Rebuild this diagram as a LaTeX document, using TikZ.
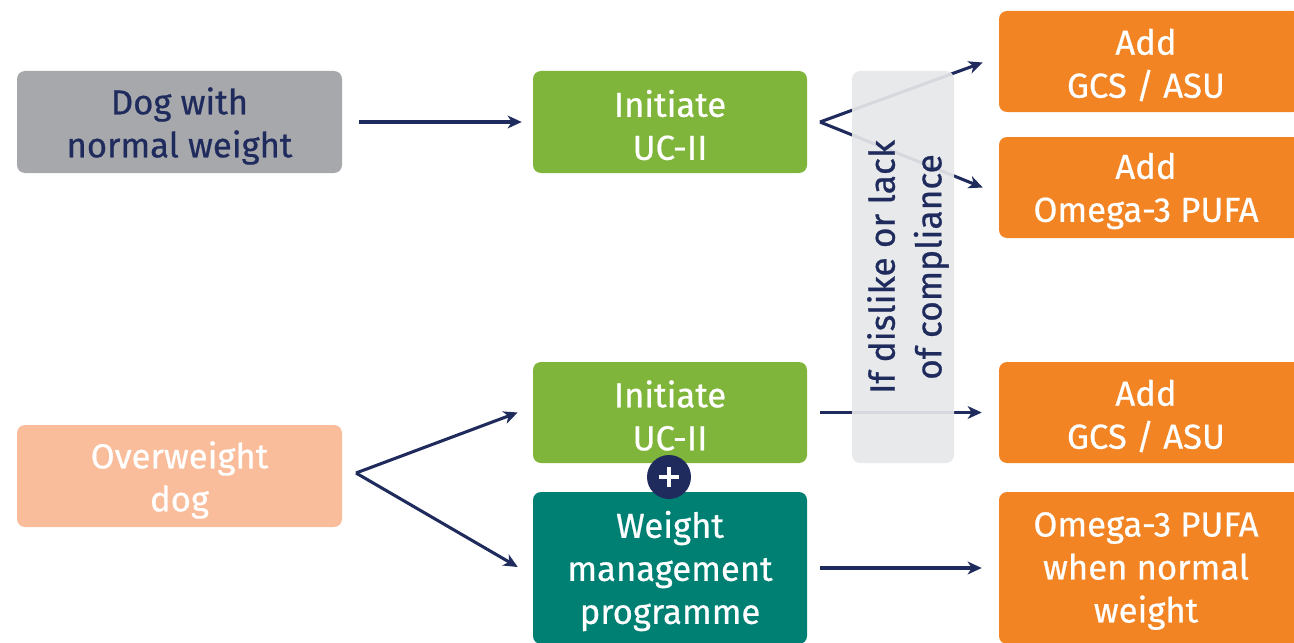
\documentclass[tikz,border=0pt]{standalone}
\usepackage{fontspec}
\setmainfont{Fira Sans}[UprightFeatures={FakeBold=0.6}]
\usetikzlibrary{arrows.meta,calc}
\definecolor{navy}{RGB}{31,43,92}
\definecolor{greybox}{RGB}{167,168,172}
\definecolor{peach}{RGB}{249,189,155}
\definecolor{leaf}{RGB}{128,181,59}
\definecolor{teal}{RGB}{0,127,115}
\definecolor{orangebox}{RGB}{242,132,36}
\definecolor{note}{RGB}{230,231,233}
\tikzset{
  box/.style={rounded corners=6pt, inner sep=0pt},
  label text/.style={inner sep=0pt, align=center,
    font=\fontsize{26}{32.25}\selectfont},
  arr/.style={draw=navy, line width=2.3pt,
    -{Stealth[length=10.5pt,width=9.5pt,inset=3pt]}},
}
\begin{document}
\begin{tikzpicture}[x=0.75pt,y=-0.75pt]
\useasboundingbox (0,0) rectangle (1294,642);
\clip (0,0) rectangle (1294,642);

% left column
\node[box, fill=greybox, minimum width=243.75pt, minimum height=76.5pt]
  (dog) at (179.5,122) {};
\node[label text, text=navy] (dogtxt) at ($(dog.center)+(0,4)$) {Dog with\\normal weight};
\node[box, fill=peach, minimum width=243.75pt, minimum height=76.5pt]
  (over) at (179.5,476) {};
\node[label text, text=white] (overtxt) at ($(over.center)+(0,4)$) {Overweight\\dog};

% middle column
\node[box, fill=leaf, minimum width=205.5pt, minimum height=76.5pt]
  (init1) at (670,122) {};
\node[label text, text=white] (init1txt) at ($(init1.center)+(0,3)$) {Initiate\\UC-II};
\node[box, fill=leaf, minimum width=205.5pt, minimum height=75.75pt]
  (init2) at (670,412.5) {};
\node[label text, text=white] (init2txt) at ($(init2.center)+(0,3)$) {Initiate\\UC-II};
\node[box, fill=teal, minimum width=205.5pt, minimum height=114pt]
  (wm) at (670,568) {};
\node[label text, text=white] (wmtxt) at ($(wm.center)+(0,3)$) {Weight\\management\\programme};

% right column (boxes run past the right edge)
\node[box, fill=orangebox, minimum width=226.5pt, minimum height=75.75pt]
  (o1) at (1150,61.5) {};
\node[label text, text=white] (o1txt) at (1146,65) {Add\\GCS / ASU};
\node[box, fill=orangebox, minimum width=226.5pt, minimum height=75.75pt]
  (o2) at (1150,187.5) {};
\node[label text, text=white] (o2txt) at (1146,191) {Add\\Omega-3 PUFA};
\node[box, fill=orangebox, minimum width=226.5pt, minimum height=75.75pt]
  (o3) at (1150,412.5) {};
\node[label text, text=white] (o3txt) at (1146,416) {Add\\GCS / ASU};
\node[box, fill=orangebox, minimum width=226.5pt, minimum height=114pt]
  (o4) at (1150,568) {};
\node[label text, text=white] (o4txt) at (1146,571) {Omega-3 PUFA\\when normal\\weight};

% fork points
\coordinate (fork1) at (820,122);
\coordinate (fork2) at (356,473);

% connectors
\draw[arr, shorten <=12.75pt, shorten >=8.25pt] (dog.east) -- (init1.west);
\draw[arr] (fork1) -- ($(o1.west)+(-16,1)$);
\draw[arr] (fork1) -- ($(o2.west)+(-16,0)$);
\draw[arr, shorten <=9.75pt, shorten >=12.75pt] (init2.east) -- (o3.west);
\draw[arr] (fork2) -- ($(init2.west)+(-15,0)$);
\draw[arr] (fork2) -- ($(wm.west)+(-15,-1)$);
\draw[arr, shorten <=9.75pt, shorten >=12.75pt] (wm.east) -- (o4.west);

% condition panel over the connectors
\node[box, fill=note, fill opacity=0.92, minimum width=76.5pt,
  minimum height=294pt] (cond) at (903,267) {};
\node[rotate=90, align=center, text=navy, inner sep=0pt,
  font=\fontsize{26.5}{35}\selectfont]
  (condtext) at (908,267) {If dislike or lack\\of compliance};

% plus badge
\node[circle, fill=navy, minimum size=33pt, inner sep=0pt] (plus) at (669,477) {};
\draw[white, line width=3.4pt] ($(plus.center)+(-10,0)$) -- ($(plus.center)+(10,0)$)
  ($(plus.center)+(0,-10)$) -- ($(plus.center)+(0,10)$);
\end{tikzpicture}
\end{document}
